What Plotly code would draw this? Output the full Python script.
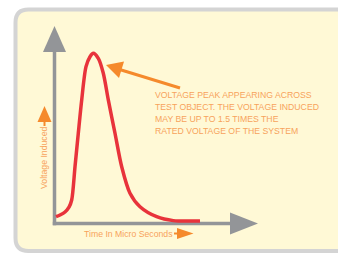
import plotly.graph_objects as go

# ---- data (time in µs, voltage in p.u. of peak) ----
time_us = [0.1, 0.3, 0.55, 0.75, 0.885, 1.05, 1.215, 1.385, 1.6, 1.8, 1.965,
           2.215, 2.465, 2.715, 3.05, 3.385, 3.8, 4.3, 5.135, 5.965, 7.3]
voltage = [0.043, 0.053, 0.071, 0.10, 0.142, 0.339, 0.537, 0.734, 0.931, 0.99, 1.01,
           0.98, 0.892, 0.734, 0.537, 0.339, 0.182, 0.102, 0.043, 0.02, 0.018]

peak_text = ["VOLTAGE PEAK APPEARING ACROSS",
             "TEST OBJECT. THE VOLTAGE INDUCED",
             "MAY BE UP TO 1.5 TIMES THE",
             "RATED VOLTAGE OF THE SYSTEM"]
x_label = "Time In Micro Seconds"
y_label = "Voltage Induced"

W, H = 338, 256
# pixel -> data scale
OX, OY = 54, 224        # origin pixel
SX, SY = 20.0, 169.0    # px per unit


def tx(px):
    return (px - OX) / SX


def ty(py):
    return (OY - py) / SY


RED = "#E8333B"
GREY = "#939598"
ORANGE = "#F58A2C"
TXT = "#F7A35C"
FONT = "Liberation Sans, Arial, sans-serif"
FS = 8.7

fig = go.Figure()
fig.add_trace(go.Scatter(x=time_us, y=voltage, mode="lines",
                         line=dict(color=RED, width=3.5, shape="spline", smoothing=0.8),
                         hoverinfo="skip", showlegend=False))


def path(pts, close=True):
    s = "M " + " L ".join(f"{tx(a):.4f},{ty(b):.4f}" for a, b in pts)
    return s + (" Z" if close else "")


shapes = []
# rounded background box
L, T, R, B, r = 15.5, 9.5, 350, 251, 13
box = (f"M {tx(L):.4f},{ty(T+r):.4f} Q {tx(L):.4f},{ty(T):.4f} {tx(L+r):.4f},{ty(T):.4f} "
       f"L {tx(R-r):.4f},{ty(T):.4f} Q {tx(R):.4f},{ty(T):.4f} {tx(R):.4f},{ty(T+r):.4f} "
       f"L {tx(R):.4f},{ty(B-r):.4f} Q {tx(R):.4f},{ty(B):.4f} {tx(R-r):.4f},{ty(B):.4f} "
       f"L {tx(L+r):.4f},{ty(B):.4f} Q {tx(L):.4f},{ty(B):.4f} {tx(L):.4f},{ty(B-r):.4f} Z")
shapes.append(dict(type="path", path=box, xref="x", yref="y", layer="below",
                   fillcolor="#FFF9D6", line=dict(color="#D4D4D4", width=4)))
# axes
shapes.append(dict(type="line", xref="x", yref="y", x0=tx(54.5), y0=ty(225.3), x1=tx(54.5), y1=ty(50),
                   line=dict(color=GREY, width=3.5), layer="below"))
shapes.append(dict(type="line", xref="x", yref="y", x0=tx(52.8), y0=ty(223.6), x1=tx(232), y1=ty(223.6),
                   line=dict(color=GREY, width=3.5), layer="below"))
shapes.append(dict(type="path", xref="x", yref="y", path=path([(54.5, 26), (66, 52), (43, 52)]),
                   fillcolor=GREY, line=dict(width=0), layer="below"))
shapes.append(dict(type="path", xref="x", yref="y", path=path([(258, 223.6), (230, 212.5), (230, 234.5)]),
                   fillcolor=GREY, line=dict(width=0), layer="below"))
# callout arrow
shapes.append(dict(type="line", xref="x", yref="y", x0=tx(180), y0=ty(88), x1=tx(118), y1=ty(69),
                   line=dict(color=ORANGE, width=3)))
shapes.append(dict(type="path", xref="x", yref="y", path=path([(106, 65), (124, 61.5), (119, 78)]),
                   fillcolor=ORANGE, line=dict(width=0)))
# small label arrows
shapes.append(dict(type="path", xref="x", yref="y", path=path([(44.5, 106), (51.5, 122), (37.5, 122)]),
                   fillcolor=ORANGE, line=dict(width=0)))
shapes.append(dict(type="line", xref="x", yref="y", x0=tx(44.5), y0=ty(121), x1=tx(44.5), y1=ty(126),
                   line=dict(color=ORANGE, width=2)))
shapes.append(dict(type="path", xref="x", yref="y", path=path([(193.5, 233.5), (177, 228), (177, 239)]),
                   fillcolor=ORANGE, line=dict(width=0)))
shapes.append(dict(type="line", xref="x", yref="y", x0=tx(174), y0=ty(233.5), x1=tx(178), y1=ty(233.5),
                   line=dict(color=ORANGE, width=2)))

annotations = []
for i, line in enumerate(peak_text):
    annotations.append(dict(x=tx(152.5), y=ty(95 + i * 11.9), xref="x", yref="y", text=line,
                            showarrow=False, xanchor="left", yanchor="middle",
                            font=dict(family=FONT, size=FS, color=TXT)))
annotations.append(dict(x=tx(81.5), y=ty(233.5), xref="x", yref="y", text=x_label, showarrow=False,
                        xanchor="left", yanchor="middle", font=dict(family=FONT, size=FS, color=TXT)))
annotations.append(dict(x=tx(43.5), y=ty(158.5), xref="x", yref="y", text=y_label, showarrow=False,
                        textangle=-90, xanchor="center", yanchor="middle",
                        font=dict(family=FONT, size=FS, color=TXT)))

fig.update_layout(
    width=W, height=H, margin=dict(l=0, r=0, t=0, b=0),
    paper_bgcolor="white", plot_bgcolor="white",
    xaxis=dict(range=[tx(0), tx(W)], visible=False, fixedrange=True),
    yaxis=dict(range=[ty(H), ty(0)], visible=False, fixedrange=True),
    shapes=shapes, annotations=annotations, showlegend=False,
)
fig.write_html("out.html", config={"displayModeBar": False},
               post_script="document.body.style.margin='0';")
